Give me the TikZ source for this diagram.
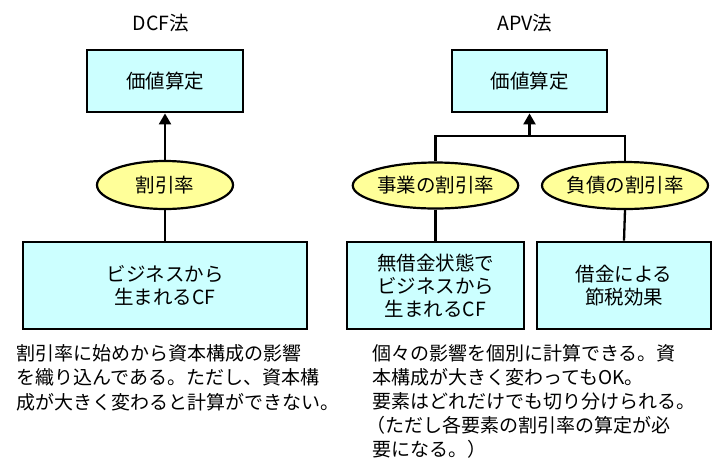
\documentclass[tikz,border=0pt]{standalone}
\usepackage{fontspec}
\setmainfont{Noto Sans CJK JP}
\usetikzlibrary{shapes.geometric,arrows.meta}
\definecolor{boxfill}{HTML}{CCFFFF}
\definecolor{ellfill}{HTML}{FFFF99}
\begin{document}
\begin{tikzpicture}[x=1pt,y=-1pt,
  box/.style={draw=black,line width=2.8pt,fill=boxfill,rectangle,inner sep=0pt,align=center,font=\fontsize{19.5}{23}\selectfont},
  ell/.style={draw=black,line width=2.2pt,fill=ellfill,ellipse,inner sep=0pt,font=\fontsize{19.5}{23}\selectfont},
  title/.style={font=\fontsize{19.5}{23}\selectfont,inner sep=0pt},
  body/.style={anchor=base west,inner sep=0pt,font=\fontsize{19}{24}\selectfont},
  conn/.style={draw=black,line width=2.3pt},
  arr/.style={conn,-{Triangle[width=12pt,length=11pt]}}
]
\useasboundingbox (0,0) rectangle (714,475);
\fill[white] (0,0) rectangle (714,475);

% DCF
\node[title] (t1) at (161,23) {DCF法};
\node[box,minimum width=156pt,minimum height=62pt] (v1) at (165,81) {価値算定};
\node[ell,minimum width=136pt,minimum height=48pt] (e1) at (165,185) {割引率};
\node[box,minimum width=284pt,minimum height=87pt] (b1) at (165,285.5) {ビジネスから\\生まれるCF};
\draw[arr] (e1.north) -- (v1.south);
\draw[conn] (e1.south) -- (b1.north);

\node[body] (l1) at (16,360) {割引率に始めから資本構成の影響};
\node[body] (l2) at (16,384.5) {を織り込んである。ただし、資本構};
\node[body] (l3) at (16,409) {成が大きく変わると計算ができない。};

% APV
\node[title] (t2) at (525,23) {APV法};
\node[box,minimum width=155pt,minimum height=62pt] (v2) at (529.5,81) {価値算定};
\node[ell,minimum width=165pt,minimum height=46pt] (e2) at (435.5,185.5) {事業の割引率};
\node[ell,minimum width=166pt,minimum height=47pt] (e3) at (625,185.5) {負債の割引率};
\node[box,minimum width=177pt,minimum height=87pt] (b2) at (435.5,285.5) {無借金状態で\\ビジネスから\\生まれるCF};
\node[box,minimum width=174pt,minimum height=87pt] (b3) at (624,285.5) {借金による\\節税効果};
\coordinate (j) at (529.5,136);
\draw[conn] (e2.north) |- (j) -| (e3.north);
\draw[arr] (j) -- (v2.south);
\draw[conn] (e2.south) -- (b2.north);
\draw[conn] (e3.south) -- (b3.north);

\node[body] (r1) at (372,360) {個々の影響を個別に計算できる。資};
\node[body] (r2) at (372,384) {本構成が大きく変わってもOK。};
\node[body] (r3) at (372,408) {要素はどれだけでも切り分けられる。};
\node[body] (r4) at (366,432) {（ただし各要素の割引率の算定が必};
\node[body] (r5) at (372,456) {要になる。）};
\end{tikzpicture}
\end{document}
